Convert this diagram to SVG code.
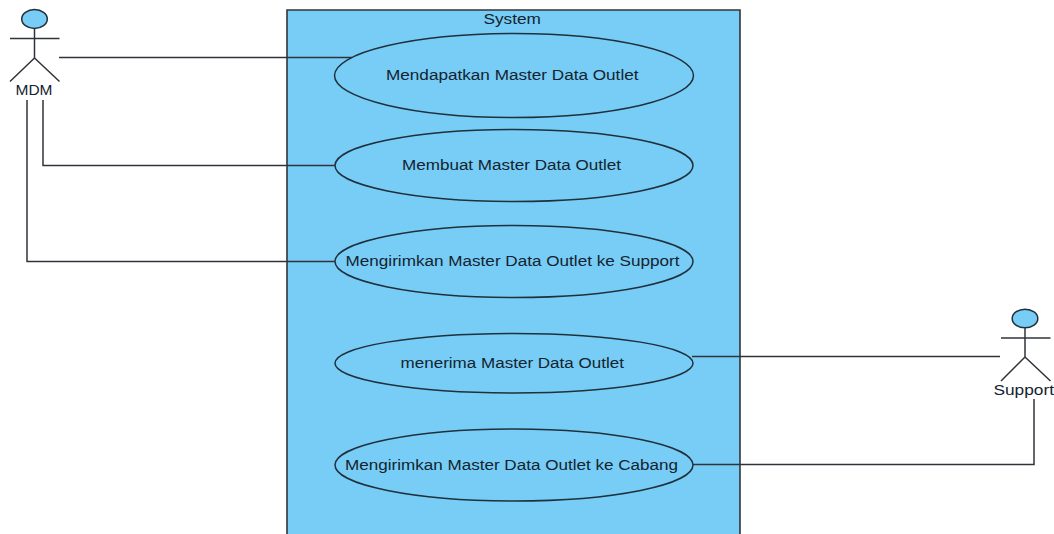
<svg xmlns="http://www.w3.org/2000/svg" width="1054" height="534" viewBox="0 0 1054 534">
<style>
text{font-family:"Liberation Sans",Arial,sans-serif;font-size:14px;fill:#14232f;text-anchor:start}
.uc{fill:#77cdf6;stroke:#20303c;stroke-width:1.5}
.ln{fill:none;stroke:#30343a;stroke-width:1.5}
</style>
<rect width="1054" height="534" fill="#fff"/>
<g id="system">
<path d="M287 534V10H740V534" fill="#77cdf6" stroke="#30343a" stroke-width="1.6"/>
<text x="483.500" y="24" textLength="57.500" lengthAdjust="spacingAndGlyphs">System</text>
</g>
<g id="connectors" class="ln">
<path d="M59 57.500H352"/>
<path d="M43 100V165.500H335"/>
<path d="M27 100V261.500H335"/>
<path d="M692 356.500H1000"/>
<path d="M693 464.500H1034V399"/>
</g>
<g id="uc1"><ellipse class="uc" cx="514" cy="75.500" rx="179.500" ry="42"/><text x="386" y="80" textLength="252.500" lengthAdjust="spacingAndGlyphs">Mendapatkan Master Data Outlet</text></g>
<g id="uc2"><ellipse class="uc" cx="514" cy="165.500" rx="179" ry="36"/><text x="402" y="170" textLength="219" lengthAdjust="spacingAndGlyphs">Membuat Master Data Outlet</text></g>
<g id="uc3"><ellipse class="uc" cx="514" cy="261.500" rx="179" ry="36"/><text x="345.500" y="265.500" textLength="334" lengthAdjust="spacingAndGlyphs">Mengirimkan Master Data Outlet ke Support</text></g>
<g id="uc4"><ellipse class="uc" cx="514" cy="363.200" rx="179" ry="29.800"/><text x="400.500" y="367.500" textLength="223.500" lengthAdjust="spacingAndGlyphs">menerima Master Data Outlet</text></g>
<g id="uc5"><ellipse class="uc" cx="514" cy="465" rx="179" ry="36"/><text x="345" y="469.500" textLength="333" lengthAdjust="spacingAndGlyphs">Mengirimkan Master Data Outlet ke Cabang</text></g>
<g id="actor-mdm">
<ellipse class="uc" cx="34.500" cy="19" rx="12.800" ry="9.500"/>
<path class="ln" d="M34.500 28.500V58M10 38.500H59.500M10 81.500L34.500 58L59.500 81.500"/>
<text x="15.500" y="95" textLength="37" lengthAdjust="spacingAndGlyphs">MDM</text>
</g>
<g id="actor-support">
<ellipse class="uc" cx="1025" cy="318.500" rx="12.800" ry="9.300"/>
<path class="ln" d="M1025 327.500V357M1001 338H1050.500M1001 381L1025 357L1050.500 381"/>
<text x="993.500" y="394.500" textLength="60.500" lengthAdjust="spacingAndGlyphs">Support</text>
</g>
</svg>
